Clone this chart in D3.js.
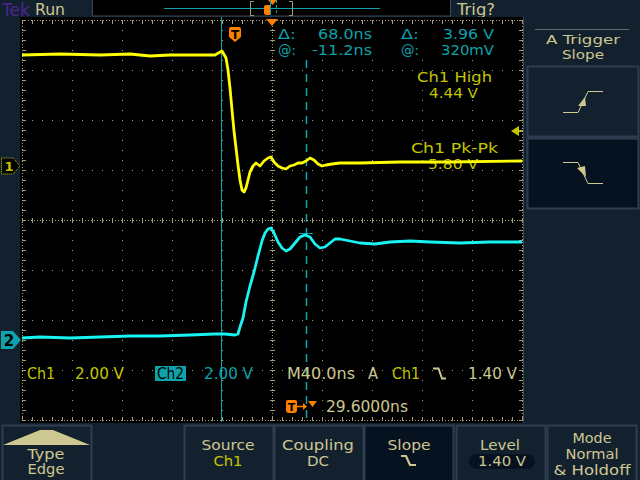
<!DOCTYPE html>
<html><head><meta charset="utf-8">
<script src="https://cdn.jsdelivr.net/npm/d3@7"></script>
<style>html,body{margin:0;padding:0;background:#13212f;overflow:hidden}</style>
</head><body><svg id="c" width="640" height="480"></svg>
<script>
// ---------- data (time in ns relative to trigger, volts) ----------
const ch1Time  = [-170.4,-140,-108,-84,-68,-52,-28,-16,-10.4,-7.2,-5.6,-4,-2.4,-0.8,0.8,2.4,4,5.6,7.2,8.8,10.4,12,14.4,16.8,20,23.2,26.4,28.8,31.2,34.4,37.6,40.8,44,47.2,50.4,53.6,56.8,60,63.2,66.4,69.6,72.8,77.6,84,100,132,172,229.6];
const ch1Volts = [4.44,4.48,4.44,4.48,4.40,4.44,4.44,4.44,4.60,4.32,3.84,3.12,2.24,1.40,0.72,0.04,-0.56,-0.96,-1.04,-0.88,-0.56,-0.24,0,0.12,0,0.2,0.32,0.36,0.16,0,-0.08,-0.12,0,0.04,0.12,0.12,0.2,0.32,0.24,0.08,0,0.04,0.08,0.12,0.12,0.16,0.16,0.2];
const ch2Time  = [-170.4,-156,-132,-108,-84,-60,-36,-16,-8,0,2.4,4,6.4,8.8,12,15.2,18.4,21.6,24,26.4,28.8,31.2,34.4,37.6,40.8,44,48,52,56,60,64,68,72,76,80,84,92,100,112,124,140,156,180,204,229.6];
const ch2Volts = [0.08,0.12,0.08,0.12,0.16,0.16,0.2,0.24,0.24,0.2,0.24,0.52,0.88,1.52,2.16,2.72,3.36,3.96,4.28,4.44,4.48,4.28,3.92,3.68,3.56,3.64,3.88,4.12,4.2,4.12,3.84,3.68,3.72,3.88,4.04,4.04,3.96,3.88,3.84,3.92,3.96,3.92,3.88,3.92,3.92];
const cursorTimes = [-11.2, 56.8];
const cursorMarkVolts = 4.28;
const triggerLevel = 1.40;
const timeDomain = [-170.4, 229.6];   // 10 div x 40 ns
const nsPerDiv = 40, voltsPerDiv = 2;
const readouts = [["Δ:","68.0ns","Δ:","3.96 V"],["@:","-11.2ns","@:","320mV"]];
const measLabels = [["Ch1 High","4.44 V"],["Ch1 Pk-Pk","5.80 V"]];
const bottomButtons = [["Type","Edge"],["",""],["Source","Ch1"],["Coupling","DC"],["Slope",""],["Level","1.40 V"],["Mode","Normal","& Holdoff"]];

// ---------- setup ----------
const svg = d3.select('#c');
const F = "'DejaVu Sans', sans-serif";
const BG='#13212f', BEIGE='#cdc790', YEL='#c4c400', TEAL='#0ea2aa', ORANGE='#ff7f00', GRID='#a29e76';
const L=22, R=522, T=20, B=420;

const x  = d3.scaleLinear().domain(timeDomain).range([L, R]);
const y1 = d3.scaleLinear().domain([-(B-166)/25, (166-T)/25]).range([B, T]);
const y2 = d3.scaleLinear().domain([-(B-340)/25, (340-T)/25]).range([B, T]);

function txt(xp, yp, s, col, size, opts={}) {
  const t = svg.append('text').attr('x', xp).attr('y', yp).text(s)
    .attr('fill', col).attr('font-family', F).attr('font-size', size);
  if (opts.len) t.attr('textLength', opts.len).attr('lengthAdjust', 'spacingAndGlyphs');
  if (opts.anchor) t.attr('text-anchor', opts.anchor);
  if (opts.weight) t.attr('font-weight', opts.weight);
  return t;
}

svg.append('rect').attr('width',640).attr('height',480).attr('fill',BG);

// ---------- top bar ----------
txt(2, 16, 'Tek', '#4c2592', 17, {len:28});
txt(35, 15, 'Run', BEIGE, 16, {len:30});
svg.append('rect').attr('x',92.5).attr('y',-1).attr('width',358).attr('height',17).attr('fill','#000').attr('stroke','#3a4858');
svg.append('line').attr('x1',164).attr('x2',380).attr('y1',8.5).attr('y2',8.5).attr('stroke',TEAL);
svg.append('path').attr('d','M254,1.5 H250.5 V15.5 H254 M289,1.5 H292.5 V15.5 H289').attr('fill','none').attr('stroke','#a09a80');
svg.append('rect').attr('x',264).attr('y',5).attr('width',7).attr('height',10).attr('rx',2).attr('fill',ORANGE);
svg.append('polygon').attr('points','268,0 277,0 272.5,5').attr('fill',ORANGE);
svg.append('line').attr('x1',270.5).attr('x2',270.5).attr('y1',0).attr('y2',15).attr('stroke',TEAL);
svg.append('line').attr('x1',276.5).attr('x2',276.5).attr('y1',0).attr('y2',15).attr('stroke',TEAL).attr('stroke-dasharray','3,2');
txt(457, 15, 'Trig?', BEIGE, 16, {len:38});

// ---------- graticule ----------
svg.append('rect').attr('x',20).attr('y',17).attr('width',503).attr('height',406).attr('fill','#000');
svg.append('line').attr('x1',523.5).attr('x2',523.5).attr('y1',17).attr('y2',423).attr('stroke','#3e4c5a');
const g = svg.append('g').attr('shape-rendering','crispEdges');
const divX = d3.range(11).map(i => x(timeDomain[0] + i*nsPerDiv));
const divY = d3.range(9).map(j => T + j*(B-T)/8);
divX.forEach((xx,i) => {
  const edge = (i===0||i===10), center = (i===5);
  g.append('line').attr('x1',xx+0.5).attr('x2',xx+0.5).attr('y1',T).attr('y2',B+1)
   .attr('stroke',GRID).attr('stroke-dasharray', (edge||center)?'1,2':'1,9');
  if (edge||center) {
    d3.range(T, B+1, 10).forEach(yy => {
      const a = center ? xx-2 : (i===0? xx : xx-3), b = center ? xx+3 : (i===0? xx+4 : xx+1);
      g.append('line').attr('x1',a).attr('x2',b).attr('y1',yy+0.5).attr('y2',yy+0.5).attr('stroke',GRID);
    });
  }
});
divY.forEach((yy,j) => {
  const edge = (j===0||j===8), center = (j===4);
  g.append('line').attr('y1',yy+0.5).attr('y2',yy+0.5).attr('x1',L).attr('x2',R+1)
   .attr('stroke',GRID).attr('stroke-dasharray', (edge||center)?'1,2':'1,9');
  if (edge||center) {
    d3.range(L, R+1, 10).forEach(xx => {
      const a = center ? yy-2 : (j===0? yy : yy-3), b = center ? yy+3 : (j===0? yy+4 : yy+1);
      g.append('line').attr('y1',a).attr('y2',b).attr('x1',xx+0.5).attr('x2',xx+0.5).attr('stroke',GRID);
    });
  }
});
// readout background hides grid
svg.append('rect').attr('x',275).attr('y',24).attr('width',230).attr('height',35).attr('fill','#000');

// ---------- cursors ----------
svg.append('line').attr('x1',x(cursorTimes[0])+0.5).attr('x2',x(cursorTimes[0])+0.5).attr('y1',17).attr('y2',422).attr('stroke',TEAL);
svg.append('line').attr('x1',x(cursorTimes[1])+0.5).attr('x2',x(cursorTimes[1])+0.5).attr('y1',60).attr('y2',422).attr('stroke',TEAL).attr('stroke-width',1.5).attr('stroke-dasharray','8,6');
svg.append('line').attr('x1',x(cursorTimes[1])-7).attr('x2',x(cursorTimes[1])+7).attr('y1',y2(cursorMarkVolts)+0.5).attr('y2',y2(cursorMarkVolts)+0.5).attr('stroke',TEAL);

// trigger marker (T) and center marker
svg.append('path').attr('d',`M${x(0)-6},29 Q${x(0)-6},27 ${x(0)-4},27 H${x(0)+4} Q${x(0)+6},27 ${x(0)+6},29 V37 L${x(0)},42 L${x(0)-6},37 Z`).attr('fill',ORANGE);
txt(x(0), 39, 'T', '#000', 12, {anchor:'middle', weight:'bold'});
svg.append('polygon').attr('points',`${(L+R)/2-6},19 ${(L+R)/2+6},19 ${(L+R)/2},26`).attr('fill',ORANGE);

// ---------- readouts ----------
const rowY = [38.5, 55];
readouts.forEach((r,i) => {
  txt(278, rowY[i], r[0], TEAL, 14, {len:18});
  txt(372, rowY[i], r[1], TEAL, 14, {anchor:'end', len: i===0?54:60});
  txt(401, rowY[i], r[2], TEAL, 14, {len:18});
  txt(494, rowY[i], r[3], TEAL, 14, {anchor:'end', len: i===0?51:53});
});
txt(417, 81.5, measLabels[0][0], YEL, 14, {len:75});
txt(429, 98, measLabels[0][1], YEL, 14, {len:49});
txt(411, 152.5, measLabels[1][0], YEL, 14, {len:87});
txt(428, 169, measLabels[1][1], YEL, 14, {len:50});

// ---------- traces ----------
svg.append('clipPath').attr('id','clip').append('rect').attr('x',20).attr('y',17).attr('width',503).attr('height',406);
const ch1 = ch1Time.map((t,i)=>({t, v:ch1Volts[i]}));
const ch2 = ch2Time.map((t,i)=>({t, v:ch2Volts[i]}));
svg.append('path').datum(ch2).attr('clip-path','url(#clip)')
  .attr('d', d3.line().x(d=>x(d.t)).y(d=>y2(d.v)))
  .attr('fill','none').attr('stroke','#18f4f4').attr('stroke-width',2.8).attr('stroke-linejoin','round');
svg.append('path').datum(ch1).attr('clip-path','url(#clip)')
  .attr('d', d3.line().x(d=>x(d.t)).y(d=>y1(d.v)))
  .attr('fill','none').attr('stroke','#ffff00').attr('stroke-width',2.8).attr('stroke-linejoin','round');

// trigger level arrow
const ty = y1(triggerLevel);
svg.append('polygon').attr('points',`511,${ty} 519,${ty-5} 519,${ty+5}`).attr('fill',YEL);
svg.append('line').attr('x1',518).attr('x2',522).attr('y1',ty+0.5).attr('y2',ty+0.5).attr('stroke',YEL);

// channel markers
svg.append('path').attr('d',`M1.5,${y1(0)-8} H13 L20,${y1(0)} L13,${y1(0)+8} H1.5 Z`).attr('fill','#000').attr('stroke',YEL).attr('stroke-dasharray','1,1');
txt(9, y1(0)+5, '1', YEL, 13, {anchor:'middle', weight:'bold'});
svg.append('path').attr('d',`M1,${y2(0)-9} H13 L21,${y2(0)} L13,${y2(0)+9} H1 Z`).attr('fill',TEAL);
txt(9, y2(0)+6, '2', '#000', 15, {anchor:'middle', weight:'bold'});

// ---------- bottom status ----------
txt(27, 379, 'Ch1', YEL, 15, {len:28});
txt(75, 379, '2.00 V', YEL, 15, {len:49});
svg.append('rect').attr('x',155).attr('y',366).attr('width',31).attr('height',15).attr('fill',TEAL);
txt(157, 379, 'Ch2', '#000', 15, {len:27});
txt(204, 379, '2.00 V', TEAL, 15, {len:49});
txt(287, 379, 'M40.0ns', BEIGE, 15, {len:68});
txt(368, 379, 'A', BEIGE, 15, {len:10});
txt(392, 379, 'Ch1', YEL, 15, {len:28});
svg.append('path').attr('d','M433,368.5 H438.5 L442,378.5 H446').attr('fill','none').attr('stroke',BEIGE).attr('stroke-width',2);
txt(468, 379, '1.40 V', BEIGE, 15, {len:49});
// T -> trigger position
svg.append('path').attr('d','M286,402 Q286,400 288,400 H295 Q297,400 297,402 V410 Q297,413 294,413 H289 Q286,413 286,410 Z').attr('fill',ORANGE);
txt(291.5, 411, 'T', '#000', 11, {anchor:'middle', weight:'bold'});
svg.append('line').attr('x1',297).attr('x2',305).attr('y1',406.5).attr('y2',406.5).attr('stroke',ORANGE).attr('stroke-width',1.5);
svg.append('polygon').attr('points','303,403 307,406.5 303,410').attr('fill',ORANGE);
svg.append('polygon').attr('points','308,401 317,401 312.5,407').attr('fill',ORANGE);
txt(326, 412, '29.6000ns', BEIGE, 15, {len:82});

// ---------- right menu ----------
svg.append('line').attr('x1',535).attr('x2',629).attr('y1',29.5).attr('y2',29.5).attr('stroke','#5d6874');
const MS = 14;
txt(583, 44, 'A Trigger', BEIGE, 13, {anchor:'middle', len:74});
txt(583, 59, 'Slope', BEIGE, 13, {anchor:'middle', len:42});
function button(bx, by, w, h, selected) {
  svg.append('rect').attr('x',bx+0.5).attr('y',by+0.5).attr('width',w).attr('height',h)
    .attr('fill', selected ? '#061220' : BG).attr('stroke','#2e3e50').attr('stroke-width',2);
}
button(527, 66, 111, 70, false);
button(527, 138, 111, 70, true);
svg.append('polyline').attr('points','563,112.5 578,112.5 588,91.5 603,91.5').attr('fill','none').attr('stroke',BEIGE);
svg.append('polygon').attr('points','578,106 586,106 585,97').attr('fill',BEIGE);
svg.append('polyline').attr('points','563,162.5 578,162.5 588,183.5 603,183.5').attr('fill','none').attr('stroke',BEIGE);
svg.append('polygon').attr('points','577,168 585,166 586,177').attr('fill',BEIGE);

// ---------- bottom buttons ----------
const bx = [2, 92, 184, 274, 364, 456, 547];
bottomButtons.forEach((b,i) => {
  if (i===1) return;
  button(bx[i], 425, 89, 56, i===4);
});
svg.append('polygon').attr('points','3,445 40,430 53,430 90,445').attr('fill',BEIGE);
txt(46, 459, bottomButtons[0][0], BEIGE, MS, {anchor:'middle', len:37});
txt(46, 474, bottomButtons[0][1], BEIGE, MS, {anchor:'middle', len:37});
txt(228, 450, bottomButtons[2][0], BEIGE, MS, {anchor:'middle', len:53});
txt(228, 466, bottomButtons[2][1], YEL, MS, {anchor:'middle', len:29});
txt(318, 450, bottomButtons[3][0], BEIGE, MS, {anchor:'middle', len:72});
txt(318, 466, bottomButtons[3][1], BEIGE, MS, {anchor:'middle', len:22});
txt(409, 450, bottomButtons[4][0], BEIGE, MS, {anchor:'middle', len:43});
svg.append('path').attr('d','M401,456 H406 L410,465 H416').attr('fill','none').attr('stroke',BEIGE).attr('stroke-width',2.2);
txt(500, 450, bottomButtons[5][0], BEIGE, MS, {anchor:'middle', len:40});
svg.append('rect').attr('x',469).attr('y',454).attr('width',66).attr('height',15).attr('rx',7.5).attr('fill','#061220');
txt(502, 466, bottomButtons[5][1], BEIGE, MS, {anchor:'middle', len:48});
txt(592, 443, bottomButtons[6][0], BEIGE, MS, {anchor:'middle', len:39});
txt(592, 459, bottomButtons[6][1], BEIGE, MS, {anchor:'middle', len:53});
txt(592, 475, bottomButtons[6][2], BEIGE, MS, {anchor:'middle', len:77});
</script></body></html>
